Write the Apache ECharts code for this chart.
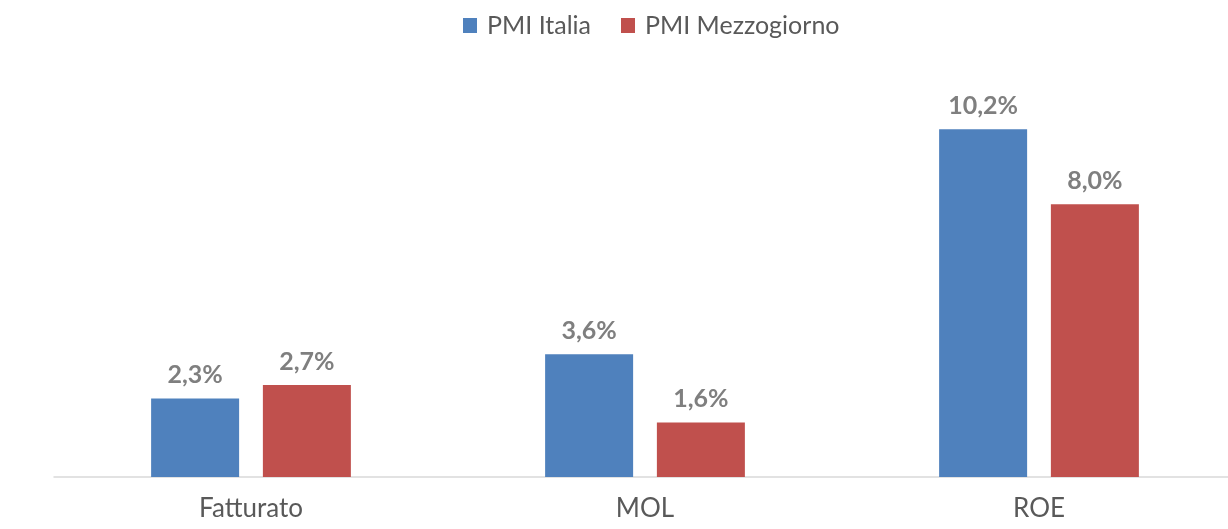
<!DOCTYPE html>
<html>
<head>
<meta charset="utf-8">
<script src="https://cdn.jsdelivr.net/npm/echarts@6/dist/echarts.min.js"></script>
<style>
  html, body { margin: 0; padding: 0; background: #fff; overflow: hidden; }
  #chart { width: 1240px; height: 529px; }
</style>
</head>
<body>
<div id="chart"></div>
<script>
// categorie e valori (%)
var categories = ['Fatturato', 'MOL', 'ROE'];
var pmiItalia = [2.3, 3.6, 10.2];
var pmiMezzogiorno = [2.7, 1.6, 8.0];
var seriesNames = ['PMI Italia', 'PMI Mezzogiorno'];

var fontName = 'Lato, "Liberation Sans", sans-serif';

function fmt(p) {
	return p.value.toFixed(1).replace('.', ',') + '%';
}

var labelStyle = {
	show: true,
	position: 'top',
	distance: 11,
	formatter: fmt,
	color: '#7f7f7f',
	fontWeight: 'bold',
	fontSize: 25,
	fontFamily: fontName
};

var mychart = echarts.init(document.getElementById('chart'));
var option = {
	animation: false,
	legend: {
		top: 8,
		left: 458,
		itemWidth: 14,
		itemHeight: 15,
		itemGap: 30,
		icon: 'rect',
		textStyle: { color: '#595959', fontSize: 25, fontFamily: fontName, padding: [0, 0, 0, 5] },
		data: seriesNames
	},
	grid: {
		left: 54,
		width: 1182,
		top: 68,
		bottom: 52
	},
	xAxis: {
		type: 'category',
		data: categories,
		axisLine: { lineStyle: { color: '#d9d9d9', width: 1.5 } },
		axisTick: { show: false },
		axisLabel: { color: '#595959', fontSize: 26, fontFamily: fontName, margin: 19 }
	},
	yAxis: {
		type: 'value',
		min: 0,
		max: 12,
		show: false,
		splitLine: { show: false }
	},
	series: [{
		name: seriesNames[0],
		type: 'bar',
		data: pmiItalia,
		barWidth: 88,
		barGap: '27%',
		itemStyle: { color: '#4f81bd' },
		label: labelStyle
	}, {
		name: seriesNames[1],
		type: 'bar',
		data: pmiMezzogiorno,
		barWidth: 88,
		itemStyle: { color: '#c0504d' },
		label: labelStyle
	}]
};
mychart.setOption(option);
</script>
</body>
</html>
